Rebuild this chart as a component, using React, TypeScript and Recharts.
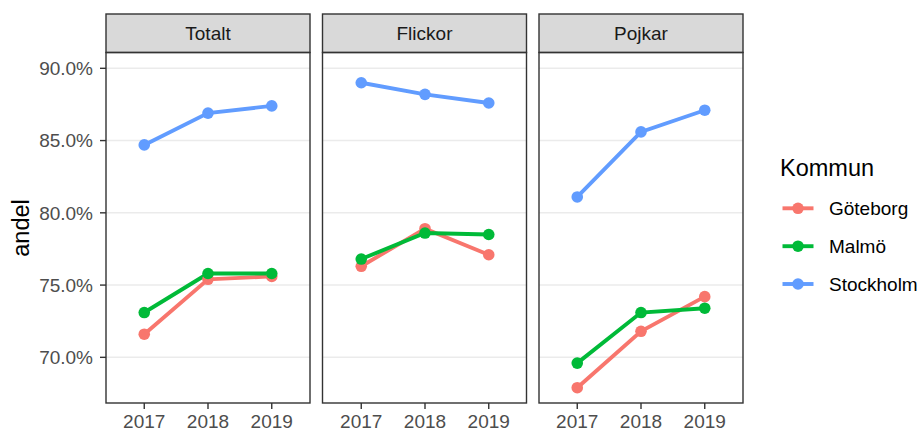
import React from 'react';
import { LineChart, Line, XAxis, YAxis, CartesianGrid } from 'recharts';

// ---- data ----
const years = [2017, 2018, 2019];
const panels = ['Totalt', 'Flickor', 'Pojkar'];
const kommuner = ['Göteborg', 'Malmö', 'Stockholm'];
const colors = ['#F8766D', '#00BA38', '#619CFF'];
const yTicks = [70, 75, 80, 85, 90];
const xTicks = [2017, 2018, 2019];

const totaltGoteborg = [71.6, 75.4, 75.6];
const totaltMalmo = [73.1, 75.8, 75.8];
const totaltStockholm = [84.7, 86.9, 87.4];

const flickorGoteborg = [76.3, 78.9, 77.1];
const flickorMalmo = [76.8, 78.6, 78.5];
const flickorStockholm = [89.0, 88.2, 87.6];

const pojkarGoteborg = [67.9, 71.8, 74.2];
const pojkarMalmo = [69.6, 73.1, 73.4];
const pojkarStockholm = [81.1, 85.6, 87.1];

const panelSeries = [
  [totaltGoteborg, totaltMalmo, totaltStockholm],
  [flickorGoteborg, flickorMalmo, flickorStockholm],
  [pojkarGoteborg, pojkarMalmo, pojkarStockholm],
];

const panelData = panelSeries.map((series) =>
  years.map((year, i) => {
    const row: Record<string, number> = { year };
    kommuner.forEach((k, j) => {
      row[k] = series[j][i];
    });
    return row;
  })
);

// ---- layout / style ----
const FONT = "'Liberation Sans', Arial, sans-serif";
const PLOT_TOP = 53;
const PLOT_H = 350;
const PLOT_W = 204;
const X_AXIS_H = 34;
const Y_AXIS_W = 106;
const panelLefts = [106, 322.5, 539];
const Y_DOMAIN: [number, number] = [66.84, 91.06];
const X_DOMAIN: [number, number] = [2016.4, 2019.6];
const BORDER = '#333333';
const BW = 1.4;
const LINE_W = 3.9;
const DOT_R = 5.8;

function Panel({ index }: { index: number }) {
  const first = index === 0;
  const width = PLOT_W + (first ? Y_AXIS_W : 0);
  const left = first ? panelLefts[0] - Y_AXIS_W : panelLefts[index];
  return (
    <div style={{ position: 'absolute', left, top: PLOT_TOP }}>
      <LineChart
        width={width}
        height={PLOT_H + X_AXIS_H}
        data={panelData[index]}
        margin={{ top: 0, right: 0, bottom: 0, left: 0 }}
      >
        <CartesianGrid
          vertical={false}
          stroke="#EBEBEB"
          strokeWidth={1.5}
          horizontalValues={yTicks}
        />
        <XAxis
          dataKey="year"
          type="number"
          domain={X_DOMAIN}
          ticks={xTicks}
          allowDataOverflow
          height={X_AXIS_H}
          axisLine={false}
          tickSize={6}
          tickMargin={6}
          tickLine={{ stroke: BORDER, strokeWidth: BW }}
          tick={{ fill: '#4D4D4D', fontSize: 19, fontFamily: FONT }}
          interval={0}
        />
        <YAxis
          hide={!first}
          type="number"
          domain={Y_DOMAIN}
          ticks={yTicks}
          allowDataOverflow
          width={Y_AXIS_W}
          axisLine={false}
          tickSize={6}
          tickMargin={7}
          tickLine={{ stroke: BORDER, strokeWidth: BW }}
          tick={{ fill: '#4D4D4D', fontSize: 19, fontFamily: FONT }}
          tickFormatter={(v: number) => v.toFixed(1) + '%'}
          interval={0}
        />
        {kommuner.map((k, j) => (
          <Line
            key={'l' + k}
            dataKey={k}
            stroke={colors[j]}
            strokeWidth={LINE_W}
            dot={false}
            activeDot={false}
            isAnimationActive={false}
            type="linear"
          />
        ))}
        {kommuner.map((k, j) => (
          <Line
            key={'p' + k}
            dataKey={k}
            stroke="none"
            strokeWidth={0}
            dot={{ r: DOT_R, fill: colors[j], stroke: 'none', strokeWidth: 0 }}
            activeDot={false}
            isAnimationActive={false}
            legendType="none"
            type="linear"
          />
        ))}
      </LineChart>
    </div>
  );
}

function Overlay() {
  const legendY = [208.3, 246.2, 284];
  return (
    <svg
      width={923}
      height={432}
      style={{ position: 'absolute', left: 0, top: 0, pointerEvents: 'none' }}
    >
      {panels.map((p, i) => (
        <g key={p}>
          <rect
            x={panelLefts[i]}
            y={14}
            width={PLOT_W}
            height={38.5}
            fill="#D9D9D9"
            stroke={BORDER}
            strokeWidth={BW}
          />
          <text
            x={panelLefts[i] + PLOT_W / 2}
            y={40}
            textAnchor="middle"
            fontSize={19}
            fontFamily={FONT}
            fill="#1A1A1A"
          >
            {p}
          </text>
          <rect
            x={panelLefts[i]}
            y={52.5}
            width={PLOT_W}
            height={350.5}
            fill="none"
            stroke={BORDER}
            strokeWidth={BW}
          />
        </g>
      ))}
      <text
        x={21}
        y={228}
        transform="rotate(-90, 21, 228)"
        textAnchor="middle"
        dominantBaseline="central"
        fontSize={23.5}
        fontFamily={FONT}
        fill="#000"
      >
        andel
      </text>
      <text x={780} y={176} fontSize={23.5} fontFamily={FONT} fill="#000">
        Kommun
      </text>
      {kommuner.map((k, j) => (
        <g key={k}>
          <line
            x1={782.5}
            x2={813.5}
            y1={legendY[j]}
            y2={legendY[j]}
            stroke={colors[j]}
            strokeWidth={LINE_W}
          />
          <circle cx={798} cy={legendY[j]} r={DOT_R} fill={colors[j]} />
          <text
            x={829}
            y={legendY[j] + 6.8}
            fontSize={19}
            fontFamily={FONT}
            fill="#000"
          >
            {k}
          </text>
        </g>
      ))}
    </svg>
  );
}

export default function App() {
  return (
    <div
      style={{
        position: 'absolute',
        left: 0,
        top: 0,
        width: 923,
        height: 432,
        background: '#fff',
        fontFamily: FONT,
      }}
    >
      {panels.map((p, i) => (
        <Panel key={p} index={i} />
      ))}
      <Overlay />
    </div>
  );
}
